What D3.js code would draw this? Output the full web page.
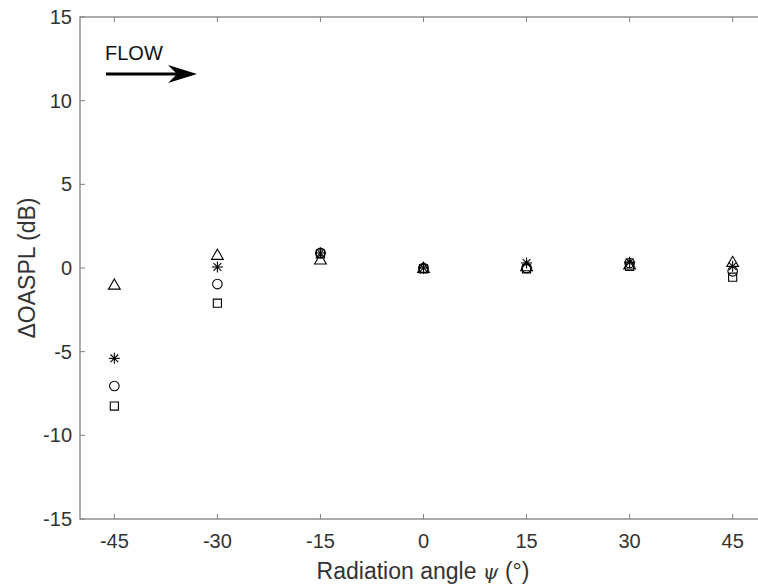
<!DOCTYPE html>
<html>
<head>
<meta charset="utf-8">
<script src="https://cdn.jsdelivr.net/npm/d3@7"></script>
<style>
  body { margin: 0; background: #fff; }
  text { font-family: "Liberation Sans", Arial, sans-serif; }
</style>
</head>
<body>
<svg id="chart" width="758" height="587"></svg>
<script>
// radiation angles and the four series (dB)
const angles = [-45, -30, -15, 0, 15, 30, 45];
const triangle_vals = [-1.0, 0.78, 0.5, 0.0, 0.1, 0.2, 0.35];
const star_vals = [-5.4, 0.06, 0.9, 0.0, 0.3, 0.35, 0.1];
const circle_vals = [-7.05, -0.96, 0.9, 0.0, 0.0, 0.3, -0.2];
const square_vals = [-8.25, -2.1, 0.85, -0.05, -0.05, 0.1, -0.55];
const x_ticks = [-45, -30, -15, 0, 15, 30, 45];
const y_ticks = [-15, -10, -5, 0, 5, 10, 15];

const plot_left = 80, plot_right = 767, plot_top = 17, plot_bottom = 519;
const axis_color = "#808080";
const text_color = "#333";

const svg = d3.select("#chart");
const x = d3.scaleLinear().domain([-50, 50]).range([plot_left, plot_right]);
const y = d3.scaleLinear().domain([-15, 15]).range([plot_bottom, plot_top]);

// box
svg.append("rect")
    .attr("x", plot_left).attr("y", plot_top)
    .attr("width", plot_right - plot_left).attr("height", plot_bottom - plot_top)
    .attr("fill", "none").attr("stroke", axis_color).attr("stroke-width", 1.3);

// ticks, pointing inward on all sides
const tick_len = 5;
x_ticks.forEach(t => {
    svg.append("line").attr("x1", x(t)).attr("x2", x(t))
        .attr("y1", plot_bottom).attr("y2", plot_bottom - tick_len)
        .attr("stroke", axis_color);
    svg.append("line").attr("x1", x(t)).attr("x2", x(t))
        .attr("y1", plot_top).attr("y2", plot_top + tick_len)
        .attr("stroke", axis_color);
    svg.append("text").attr("x", x(t)).attr("y", plot_bottom + 29)
        .attr("text-anchor", "middle").attr("font-size", "20px")
        .attr("fill", text_color).text(t);
});
y_ticks.forEach(t => {
    svg.append("line").attr("x1", plot_left).attr("x2", plot_left + tick_len)
        .attr("y1", y(t)).attr("y2", y(t)).attr("stroke", axis_color);
    svg.append("text").attr("x", plot_left - 8).attr("y", y(t) + 7)
        .attr("text-anchor", "end")
        .attr("font-size", "20px").attr("fill", text_color).text(t);
});

// axis labels
svg.append("text")
    .attr("transform", `translate(35,${(plot_top + plot_bottom) / 2}) rotate(-90)`)
    .attr("text-anchor", "middle").attr("font-size", "23px")
    .attr("fill", text_color).text("\u0394OASPL (dB)");

const xl = svg.append("text").attr("x", 423).attr("y", 579)
    .attr("text-anchor", "middle").attr("font-size", "23px").attr("fill", text_color);
xl.append("tspan").text("Radiation angle ");
xl.append("tspan").attr("font-family", "'DejaVu Serif', serif")
    .attr("font-style", "italic").attr("font-size", "20px").text("\u03c8");
xl.append("tspan").text(" (\u00b0)");

// FLOW annotation
svg.append("text").attr("x", 105).attr("y", 60)
    .attr("font-size", "20px").attr("fill", "#111").text("FLOW");
svg.append("line").attr("x1", 106).attr("x2", 184)
    .attr("y1", 74).attr("y2", 74).attr("stroke", "#000").attr("stroke-width", 3);
svg.append("path").attr("d", "M197,74 L168,65 L177,74 L168,83 Z").attr("fill", "#000");

// markers
const g = svg.append("g").attr("fill", "none").attr("stroke", "#000").attr("stroke-width", 1.1);

const sym = {
    triangle: d3.symbol().type(d3.symbolTriangle).size(60),
    circle: d3.symbol().type(d3.symbolCircle).size(72),
    square: d3.symbol().type(d3.symbolSquare).size(66),
};
function draw_series(vals, kind) {
    angles.forEach((a, i) => {
        const cx = x(a), cy = y(vals[i]);
        if (kind === "star") {
            const s = 5.5;
            const p = g.append("g").attr("transform", `translate(${cx},${cy})`);
            [[-s, 0, s, 0], [0, -s, 0, s], [-s * 0.7, -s * 0.7, s * 0.7, s * 0.7], [-s * 0.7, s * 0.7, s * 0.7, -s * 0.7]]
                .forEach(l => p.append("line").attr("x1", l[0]).attr("y1", l[1]).attr("x2", l[2]).attr("y2", l[3]));
        } else {
            g.append("path").attr("d", sym[kind]())
                .attr("transform", `translate(${cx},${cy + (kind === "triangle" ? 1 : 0)})`);
        }
    });
}
draw_series(square_vals, "square");
draw_series(circle_vals, "circle");
draw_series(triangle_vals, "triangle");
draw_series(star_vals, "star");
</script>
</body>
</html>
